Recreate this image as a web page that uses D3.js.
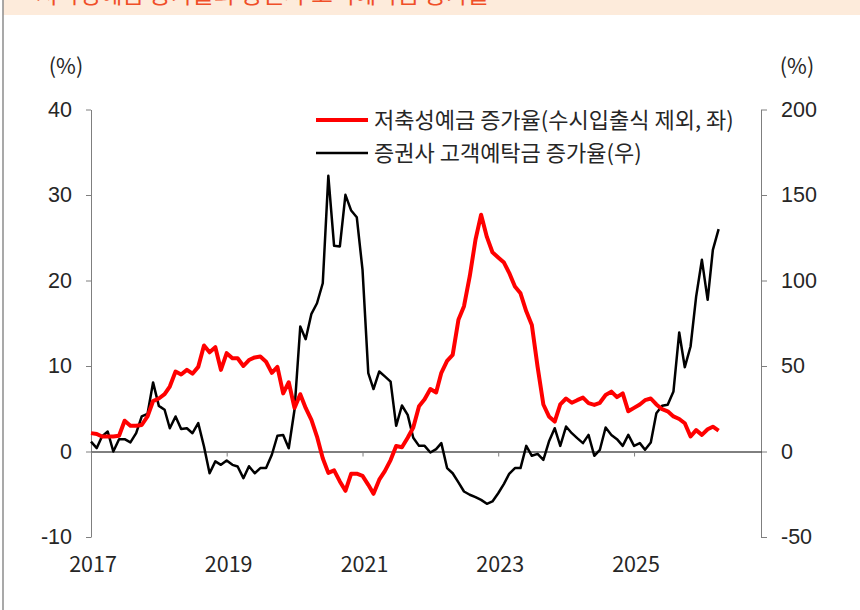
<!DOCTYPE html>
<html>
<head>
<meta charset="utf-8">
<script src="https://cdn.jsdelivr.net/npm/d3@7"></script>
<style>
  body { margin: 0; background: #fff; }
  svg { display: block; font-family: "Noto Sans CJK KR", "Noto Sans", sans-serif; }
</style>
</head>
<body>
<svg id="chart" width="860" height="610"></svg>
<script>
// monthly data, Jan 2017 .. Apr 2026
const startMonth = new Date(2017, 0, 1);
const endMonth = new Date(2026, 4, 1);

// 저축성예금 증가율 (left axis, %)
const savingsGrowth = [
  2.15, 2.05, 1.75, 1.75, 1.75, 1.85, 3.6, 3.0, 3.0, 3.1, 4.1, 5.9, 6.2, 6.7, 7.6, 9.35, 9.0, 9.55, 9.1, 9.9,
  12.4, 11.6, 12.2, 9.55, 11.5, 10.9, 10.9, 10.0, 10.7,
  11.0, 11.1, 10.5, 9.2, 9.9, 6.8, 8.1, 5.1, 6.7, 5.1, 3.7, 1.75, -0.8, -2.5, -2.2, -3.5, -4.6, -2.6, -2.6, -2.85,
  -3.9, -4.95, -3.3, -2.3, -1.0, 0.65, 0.5, 1.6, 2.8,
  5.3, 6.1, 7.3, 6.9, 9.2, 10.6, 11.3, 15.4, 17.0, 20.5, 24.8, 27.7, 25.1, 23.3, 22.7, 22.1, 20.9, 19.3, 18.5,
  16.4, 14.8, 9.9, 5.5, 4.1, 3.5, 5.5, 6.2, 5.7,
  6.0, 6.3, 5.65, 5.45, 5.7, 6.6, 7.0, 6.35, 6.8, 4.7, 5.1, 5.5, 6.0, 6.2, 5.5, 4.95, 4.7, 4.1, 3.8, 3.3,
  1.75, 2.5, 1.95, 2.6, 2.9, 2.45
];

// 증권사 고객예탁금 증가율 (right axis, %)
const depositGrowth = [
  5.8, 2.0, 8.8, 11.7, 0, 7.2, 7.2, 5.3, 10.7, 20.5, 22.0, 40.4, 26.7, 24.4, 13.6, 20.5, 13.1, 13.6, 10.7, 16.6,
  2.9, -12.7, -5.8, -7.8, -5.3, -7.8, -8.8, -15.6, -8.6,
  -12.7, -9.7, -9.7, -1.9, 9.2, 9.7, 1.9, 24.4, 73.1, 65.7, 80.5, 86.7, 98.4, 161.2, 120.3, 119.9, 150.1, 140.9,
  137.0, 106.2, 45.8, 36.5, 46.8, 43.9, 40.9, 15.0, 26.9, 21.4,
  8.0, 3.3, 3.3, -0.6, 1.4, 4.9, -9.7, -12.7, -18.1, -23.4, -25.3, -26.7, -28.3, -30.6, -29.2, -24.4, -18.9,
  -13.1, -9.7, -9.7, 3.3, -2.5, -1.4, -4.9, 5.8, 13.6, 3.3, 14.6,
  10.7, 7.8, 4.9, 9.7, -2.5, 1.0, 14.0, 9.7, 7.2, 3.3, 9.7, 3.3, 4.9, 1.0, 5.3, 22.4, 26.7, 27.3, 35.1, 69.6,
  49.3, 61.4, 90.6, 112.1, 88.7, 117.9, 130.0
];

const yearTicks = [2017, 2019, 2021, 2023, 2025];
const leftTicks = [-10, 0, 10, 20, 30, 40];
const rightTicks = [-50, 0, 50, 100, 150, 200];
const legendLabels = ["저축성예금 증가율(수시입출식 제외, 좌)", "증권사 고객예탁금 증가율(우)"];
const titleText = "저축성예금 증가율과 증권사 고객예탁금 증가율";

const months = d3.timeMonth.range(startMonth, endMonth);

const svg = d3.select("#chart");
const textColor = "#262626";
const fontSize = 21.5;

// header strip (cut off at top, as in the source)
svg.append("rect").attr("x", 3).attr("y", 0).attr("width", 857).attr("height", 15).attr("fill", "#fdebdb");
svg.append("text")
  .attr("x", 36).attr("y", 3)
  .attr("font-size", 23.5)
  .attr("fill", "#f04f28")
  .text(titleText);
svg.append("line")
  .attr("x1", 3).attr("x2", 3).attr("y1", 0).attr("y2", 610)
  .attr("stroke", "#8c8c8c").attr("stroke-width", 1.5);

// scales
const x = d3.scaleTime()
  .domain([startMonth, new Date(2026, 10, 15)])
  .range([91, 761]);

const yLeft = d3.scaleLinear().domain([-10, 40]).range([537, 109.5]);
const yRight = d3.scaleLinear().domain([-50, 200]).range([537, 109.5]);

// left axis
const gl = svg.append("g")
  .attr("transform", "translate(" + x(startMonth) + ",0)")
  .call(d3.axisLeft(yLeft).tickValues(leftTicks).tickSize(5).tickSizeOuter(0).tickPadding(14)
    .tickFormat(d => String(d)));
gl.select(".domain").attr("stroke", "#7f7f7f");
gl.selectAll(".tick line").attr("stroke", "#7f7f7f");
gl.selectAll("text").attr("font-size", fontSize).attr("fill", textColor).attr("font-family", null);

// right axis
const gr = svg.append("g")
  .attr("transform", "translate(761,0)")
  .call(d3.axisRight(yRight).tickValues(rightTicks).tickSize(6).tickSizeOuter(0).tickPadding(14)
    .tickFormat(d => String(d)));
gr.select(".domain").attr("stroke", "#7f7f7f");
gr.selectAll(".tick line").attr("stroke", "#7f7f7f");
gr.selectAll("text").attr("font-size", fontSize).attr("fill", textColor).attr("font-family", null);

// x axis along the zero line
const gx = svg.append("g")
  .attr("transform", "translate(0," + yLeft(0) + ")")
  .call(d3.axisBottom(x)
    .tickValues(yearTicks.map(yr => new Date(yr, 0, 1)))
    .tickSize(5).tickSizeOuter(0).tickFormat(""));
gx.select(".domain").attr("stroke", "#000");
gx.selectAll(".tick line").attr("stroke", "#7f7f7f");

svg.append("g").selectAll("text")
  .data(yearTicks)
  .enter()
  .append("text")
  .attr("x", d => x(new Date(d, 0, 1)) + 2)
  .attr("y", 572)
  .attr("text-anchor", "middle")
  .attr("font-size", fontSize)
  .attr("fill", textColor)
  .text(d => d);

// unit labels
svg.append("text").attr("x", 66).attr("y", 74).attr("text-anchor", "middle")
  .attr("font-size", fontSize).attr("fill", textColor).text("(%)");
svg.append("text").attr("x", 797).attr("y", 74).attr("text-anchor", "middle")
  .attr("font-size", fontSize).attr("fill", textColor).text("(%)");

// lines
const redLine = d3.line()
  .x((d, i) => x(months[i]))
  .y(d => yLeft(d));

const blackLine = d3.line()
  .x((d, i) => x(months[i]))
  .y(d => yRight(d));

svg.append("path")
  .datum(depositGrowth)
  .attr("d", blackLine)
  .attr("fill", "none")
  .attr("stroke", "#000")
  .attr("stroke-width", 2.5)
  .attr("stroke-linejoin", "round");

svg.append("path")
  .datum(savingsGrowth)
  .attr("d", redLine)
  .attr("fill", "none")
  .attr("stroke", "#ff0000")
  .attr("stroke-width", 4)
  .attr("stroke-linejoin", "round");

// legend
const legendColors = ["#ff0000", "#000"];
const legendWidths = [4, 2.5];
const lg = svg.append("g");
legendLabels.forEach((label, i) => {
  const ly = 120 + i * 33;
  lg.append("line")
    .attr("x1", 316).attr("x2", 368).attr("y1", ly).attr("y2", ly)
    .attr("stroke", legendColors[i]).attr("stroke-width", legendWidths[i]);
  lg.append("text")
    .attr("x", 374).attr("y", ly + 7.5)
    .attr("font-size", 22)
    .attr("fill", textColor)
    .text(label);
});
</script>
</body>
</html>
